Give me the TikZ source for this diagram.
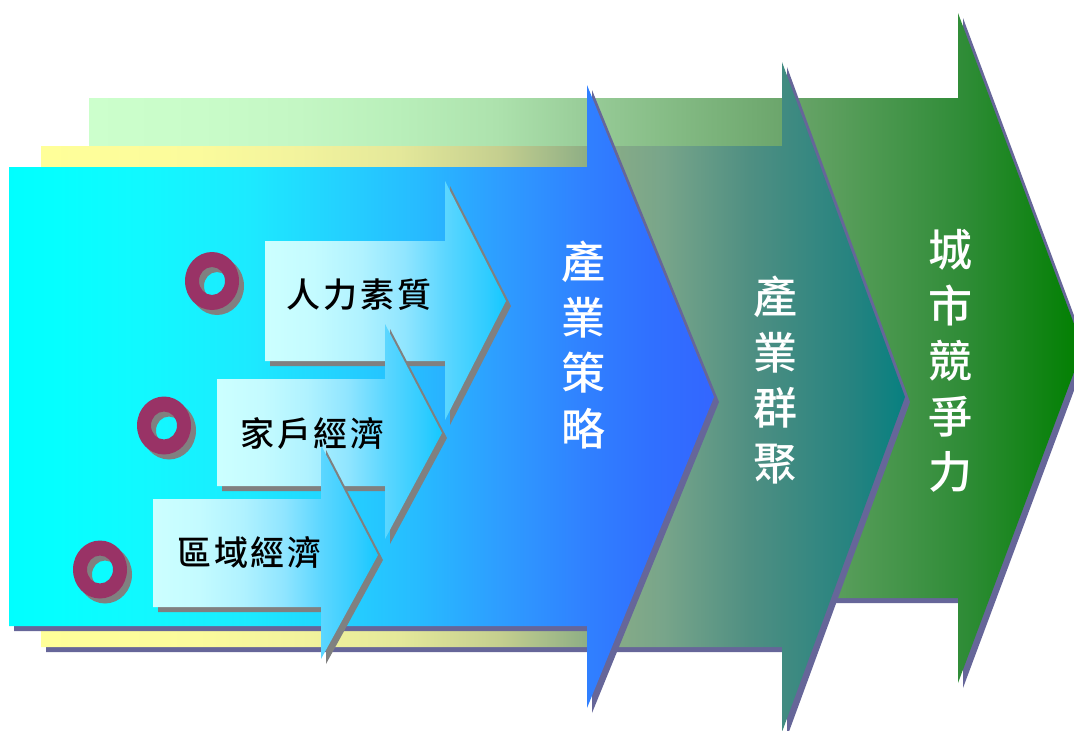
\documentclass[tikz,border=0pt]{standalone}
\usepackage{fontspec}
\setmainfont{Noto Sans CJK TC Medium}
\definecolor{shadeblue}{HTML}{666699}
\definecolor{shadegray}{HTML}{808080}
\definecolor{ringred}{HTML}{993366}
% green stops
\definecolor{ga}{HTML}{CCFFCC}\definecolor{gb}{HTML}{C9FCC9}\definecolor{gc}{HTML}{C4F7C4}
\definecolor{gd}{HTML}{B9EFBA}\definecolor{ge}{HTML}{ADE2AD}\definecolor{gf}{HTML}{98CC98}
\definecolor{gg}{HTML}{6BA56B}\definecolor{gh}{HTML}{2F8C37}\definecolor{gi}{HTML}{007F00}
% yellow stops
\definecolor{ya}{HTML}{FFFF99}\definecolor{yb}{HTML}{FBFB9C}\definecolor{yc}{HTML}{F2F39D}
\definecolor{yd}{HTML}{E4E89A}\definecolor{ye}{HTML}{C5CF8F}\definecolor{yf}{HTML}{8FAF85}
\definecolor{yg}{HTML}{78A58A}\definecolor{yh}{HTML}{4F8F82}\definecolor{yi}{HTML}{258380}
\definecolor{yj}{HTML}{078080}
% cyan stops
\definecolor{ca}{HTML}{00FFFF}\definecolor{cb}{HTML}{05FFFF}\definecolor{cc}{HTML}{12F8FF}
\definecolor{cd}{HTML}{1CEAFF}\definecolor{ce}{HTML}{24CFFF}\definecolor{cf}{HTML}{27BBFF}
\definecolor{cg}{HTML}{2E9CFF}\definecolor{ch}{HTML}{3080FF}\definecolor{ci}{HTML}{3070FF}
\definecolor{cj}{HTML}{3366FF}
% pale stops
\definecolor{pa}{HTML}{CCFFFF}\definecolor{pb}{HTML}{C4FBFF}\definecolor{pc}{HTML}{B0F2FF}
\definecolor{pd}{HTML}{90E5FF}\definecolor{pe}{HTML}{5BD6FF}\definecolor{pf}{HTML}{30CCFF}
\definecolor{pg}{HTML}{14C8FF}
\pgfdeclarehorizontalshading{greenramp}{100bp}{color(0bp)=(ga); color(25bp)=(ga); color(30.5bp)=(gb); color(35.5bp)=(gc); color(40.5bp)=(gd); color(45.5bp)=(ge); color(50bp)=(gf); color(60bp)=(gg); color(69bp)=(gh); color(75bp)=(gi); color(100bp)=(gi)}
\pgfdeclarehorizontalshading{yellowramp}{100bp}{color(0bp)=(ya); color(25bp)=(ya); color(34bp)=(yb); color(40bp)=(yc); color(45.75bp)=(yd); color(51.5bp)=(ye); color(56.5bp)=(yf); color(61bp)=(yg); color(66bp)=(yh); color(72bp)=(yi); color(75bp)=(yj); color(100bp)=(yj)}
\pgfdeclarehorizontalshading{cyanramp}{100bp}{color(0bp)=(ca); color(25bp)=(ca); color(28.5bp)=(cb); color(35bp)=(cc); color(42bp)=(cd); color(49bp)=(ce); color(54bp)=(cf); color(60bp)=(cg); color(66bp)=(ch); color(70.5bp)=(ci); color(75bp)=(cj); color(100bp)=(cj)}
\pgfdeclarehorizontalshading{paleramp}{100bp}{color(0bp)=(pa); color(25bp)=(pa); color(35bp)=(pb); color(45bp)=(pc); color(54bp)=(pd); color(62.5bp)=(pe); color(71bp)=(pf); color(75bp)=(pg); color(100bp)=(pg)}
\newcommand\arrowshape[9]{%
  \path[#1] (#2,#3) -- (#5,#3) -- (#5,#6) -- (#8,#9) -- (#5,#7) -- (#5,#4) -- (#2,#4) -- cycle;}
\newcommand\ringshape[2]{%
  \path[draw=none,fill=shadegray,even odd rule,shift={(5,5)}] (#1,#2) ellipse [x radius=27,y radius=29] (#1,#2) ellipse [x radius=13,y radius=14];
  \path[draw=none,fill=ringred,even odd rule] (#1,#2) ellipse [x radius=27,y radius=29] (#1,#2) ellipse [x radius=13,y radius=14];}
\tikzset{
  bigshadow/.style={fill=shadeblue,shift={(5,5)}},
  smallshadow/.style={fill=shadegray,shift={(5,5)}},
  greenfill/.style={shade,shading=greenramp,shading angle=0},
  yellowfill/.style={shade,shading=yellowramp,shading angle=0},
  cyanfill/.style={shade,shading=cyanramp,shading angle=0},
  palefill/.style={shade,shading=paleramp,shading angle=0},
  smalllabel/.style={text=black,inner sep=0pt,font=\fontsize{34}{34}\selectfont},
  biglabel/.style={text=white,inner sep=0pt,align=center,font=\fontsize{44}{55.5}\selectfont},
}
\newcommand\cjkgap{\hspace{2.7pt}}
\begin{document}
\begin{tikzpicture}[x=1pt,y=-1pt]
\useasboundingbox (0,0) rectangle (1074,731);
% green
\arrowshape{bigshadow}{89}{98}{598}{958}{13}{683}{1083}{348}
\arrowshape{greenfill}{89}{98}{598}{958}{13}{683}{1083}{348}
% yellow
\arrowshape{bigshadow}{41}{146}{647}{782}{62}{732}{905}{397}
\arrowshape{yellowfill}{41}{146}{647}{782}{62}{732}{905}{397}
% cyan
\arrowshape{bigshadow}{9}{167}{626}{587}{85}{708}{714}{397}
\arrowshape{cyanfill}{9}{167}{626}{587}{85}{708}{714}{397}
% small arrows
\arrowshape{smallshadow}{265}{241}{361}{445}{181}{420}{506}{301}
\arrowshape{palefill}{265}{241}{361}{445}{181}{420}{506}{301}
\arrowshape{smallshadow}{217}{379}{486}{385}{324}{539}{442}{433}
\arrowshape{palefill}{217}{379}{486}{385}{324}{539}{442}{433}
\arrowshape{smallshadow}{153}{499}{607}{321}{445}{659}{378}{555}
\arrowshape{palefill}{153}{499}{607}{321}{445}{659}{378}{555}
% rings
\ringshape{212}{281}
\ringshape{164}{425.5}
\ringshape{100}{569.5}
% labels
\node[smalllabel] (l1) at (359,295) {人\cjkgap 力\cjkgap 素\cjkgap 質};
\node[smalllabel] (l2) at (312.5,433) {家\cjkgap 戶\cjkgap 經\cjkgap 濟};
\node[smalllabel] (l3) at (249.5,553) {區\cjkgap 域\cjkgap 經\cjkgap 濟};
\node[biglabel] (b1) at (583,345) {產\\業\\策\\略};
\node[biglabel] (b2) at (775,380) {產\\業\\群\\聚};
\node[biglabel] (b3) at (950,361) {城\\市\\競\\爭\\力};
\end{tikzpicture}
\end{document}
